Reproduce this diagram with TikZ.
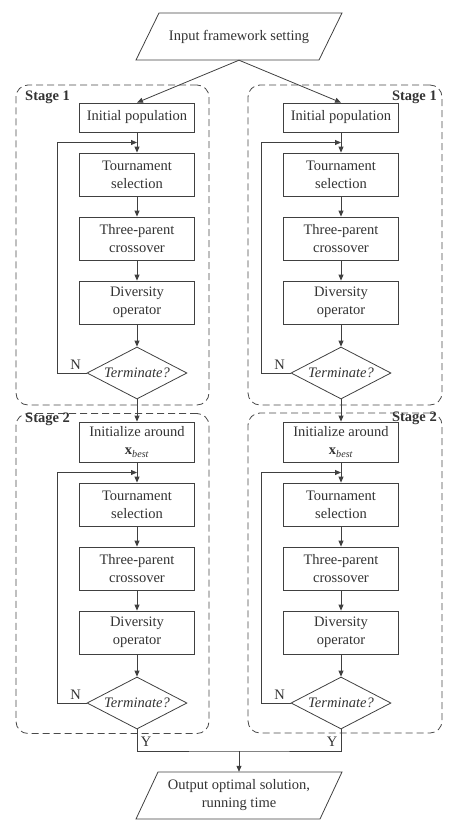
\documentclass[tikz,border=0pt]{standalone}
\usepackage{fontspec}
\setmainfont{Liberation Serif}
\usetikzlibrary{arrows.meta,shapes.geometric,calc}
\definecolor{linecol}{HTML}{404040}
\definecolor{textcol}{HTML}{333333}
\definecolor{dashcol}{HTML}{4A4A4A}
\begin{document}
\begin{tikzpicture}[x=1pt,y=-1pt,
  line/.style={draw=linecol,line width=0.8pt},
  arr/.style={line,-{Triangle[length=6pt,width=5pt]}},
  txt/.style={text=textcol,font=\fontsize{14.5}{18}\selectfont,align=center},
  box/.style={txt,line,rectangle,minimum width=115,minimum height=43,inner sep=1pt},
  dia/.style={txt,line,diamond,minimum width=100,minimum height=52,inner sep=0pt,aspect=1.92,font=\fontsize{14.5}{18}\selectfont\itshape},
  stagebox/.style={draw=dashcol,line width=0.8pt,dash pattern=on 7pt off 4pt,rounded corners=12pt,minimum width=193,minimum height=320,inner sep=0pt},
  stagelbl/.style={text=textcol,font=\fontsize{14.5}{18}\selectfont\bfseries,inner sep=0pt},
  yn/.style={text=textcol,font=\fontsize{14.5}{18}\selectfont,inner sep=0pt}
]
\useasboundingbox (0,0) rectangle (462,824);

% input
\node[txt,minimum height=47,inner sep=0pt] (inp) at (239,36.5) {Input framework setting};
\draw[line] ([shift={(-80,-23.5)}]inp.center) -- ([shift={(103,-23.5)}]inp.center)
  -- ([shift={(80,23.5)}]inp.center) -- ([shift={(-103,23.5)}]inp.center) -- cycle;

% stage boxes
\node[stagebox] (sL1) at (112.5,245) {};
\node[stagebox] (sL2) at (112.5,573.5) {};
\node[stagebox,minimum width=194] (sR1) at (345,245) {};
\node[stagebox,minimum width=194,minimum height=320] (sR2) at (345,573) {};
\node[stagelbl,anchor=west] (lL1) at (25,97) {Stage 1};
\node[stagelbl,anchor=west] (lL2) at (25,419) {Stage 2};
\node[stagelbl,anchor=east] (lR1) at (437,97) {Stage 1};
\node[stagelbl,anchor=east] (lR2) at (437,418) {Stage 2};

\foreach \c/\cx in {L/137,R/341}{
  \node[box,minimum height=29] (ip\c) at (\cx,117.5) {Initial population};
  \node[box] (ta\c) at (\cx,174.5) {Tournament\\selection};
  \node[box] (tb\c) at (\cx,238.5) {Three-parent\\crossover};
  \node[box] (tc\c) at (\cx,302.5) {Diversity\\operator};
  \node[dia] (da\c) at (\cx,373) {Terminate?};
  \node[box,minimum height=40] (in\c) at (\cx,442) {Initialize around\\{\bfseries x}\textsubscript{\itshape best}};
  \node[box] (tA\c) at (\cx,504.5) {Tournament\\selection};
  \node[box] (tB\c) at (\cx,568.5) {Three-parent\\crossover};
  \node[box] (tC\c) at (\cx,632.5) {Diversity\\operator};
  \node[dia] (dA\c) at (\cx,703) {Terminate?};
  \draw[arr] (inp.south) -- (ip\c.north);
  \draw[arr] (ip\c) -- (ta\c);
  \draw[arr] (ta\c) -- (tb\c);
  \draw[arr] (tb\c) -- (tc\c);
  \draw[arr] (tc\c) -- (da\c);
  \draw[arr] (da\c) -- (in\c);
  \draw[arr] (in\c) -- (tA\c);
  \draw[arr] (tA\c) -- (tB\c);
  \draw[arr] (tB\c) -- (tC\c);
  \draw[arr] (tC\c) -- (dA\c);
  \coordinate (ja\c) at ($(ip\c.south)!0.5!(ta\c.north)$);
  \coordinate (jA\c) at ($(in\c.south)!0.5!(tA\c.north)$);
  \draw[arr] (da\c.west) -- ++(-29,0) |- (ja\c);
  \draw[arr] (dA\c.west) -- ++(-29,0) |- (jA\c);
  \node[yn] (na\c) at ($(da\c.west)+(-11,-8)$) {N};
  \node[yn] (nA\c) at ($(dA\c.west)+(-11,-8)$) {N};
}
\node[yn] (yL) at (146,742) {Y};
\node[yn] (yR) at (332,742) {Y};

% output
\node[txt,minimum height=47,inner sep=0pt] (out) at (239,795.5) {Output optimal solution,\\running time};
\draw[line] ([shift={(-81,-23.5)}]out.center) -- ([shift={(103,-23.5)}]out.center)
  -- ([shift={(81,23.5)}]out.center) -- ([shift={(-103,23.5)}]out.center) -- cycle;

\coordinate (m) at (239,751);
\draw[line] (dAL.south) |- (m) -| (dAR.south);
\draw[arr] (m) -- (out.north);
\end{tikzpicture}
\end{document}
